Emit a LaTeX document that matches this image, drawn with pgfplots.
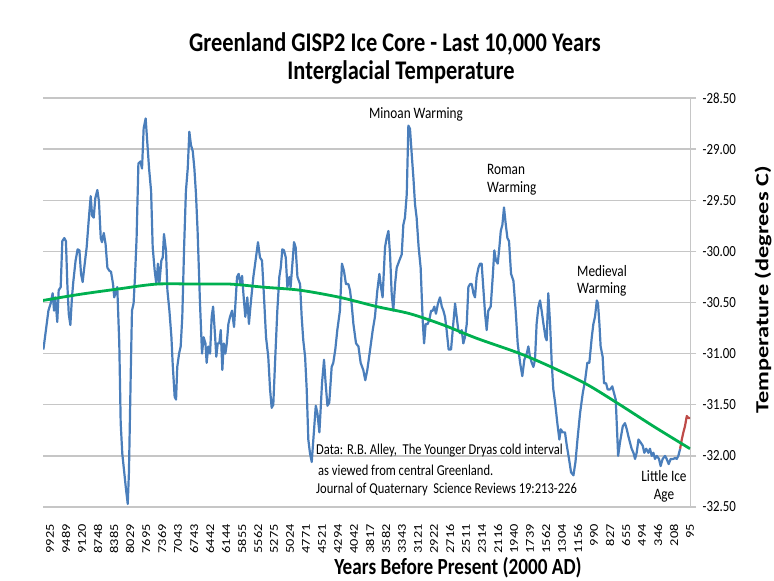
\documentclass[border=0pt]{standalone}
\usepackage{fontspec}
\setmainfont{Carlito}
\usepackage{graphicx}
\usepackage{pgfplots}
\pgfplotsset{compat=1.18}

\definecolor{coreblue}{HTML}{4A7EBB}
\definecolor{trendgreen}{HTML}{00B050}
\definecolor{recentred}{HTML}{BE4B48}
\definecolor{gridgray}{HTML}{C6C6C6}

% the reference text is a little stretched upward
\newcommand{\xl}[1]{\scalebox{1.2}[1]{#1}}
\newcommand{\yl}[1]{\scalebox{1}[1.2]{#1}}

\begin{document}
\begin{tikzpicture}[x=1bp,y=1bp]
\useasboundingbox (0,0) rectangle (774,581);
\begin{axis}[
    at={(43bp,74bp)}, anchor=south west,
    scale only axis, width=647.4bp, height=409bp,
    xmin=-0.199, xmax=31.96, ymin=-32.5, ymax=-28.5,
    axis x line*=bottom, axis y line*=right,
    axis line style={gridgray, line width=1.3bp},
    ymajorgrids, grid style={gridgray, line width=1.3bp},
    ytick={-32.5,-32,-31.5,-31,-30.5,-30,-29.5,-29,-28.5},
    yticklabels={\yl{-32.50},\yl{-32.00},\yl{-31.50},\yl{-31.00},\yl{-30.50},\yl{-30.00},\yl{-29.50},\yl{-29.00},\yl{-28.50}},
    major tick length=6bp, tick align=outside,
    ytick style={gridgray, line width=1.3bp},
    xtick style={draw=none},
    xtick={0.149,0.944,1.739,2.533,3.328,4.123,4.918,5.713,6.507,7.302,8.097,8.892,9.687,10.481,11.276,12.071,12.866,13.661,14.455,15.250,16.045,16.840,17.635,18.429,19.224,20.019,20.814,21.609,22.403,23.198,23.993,24.788,25.583,26.377,27.172,27.967,28.762,29.557,30.351,31.146,31.941},
    xticklabels={\xl{9925},\xl{9489},\xl{9120},\xl{8748},\xl{8385},\xl{8029},\xl{7695},\xl{7369},\xl{7043},\xl{6743},\xl{6442},\xl{6144},\xl{5855},\xl{5562},\xl{5275},\xl{5024},\xl{4771},\xl{4521},\xl{4294},\xl{4042},\xl{3817},\xl{3582},\xl{3343},\xl{3121},\xl{2922},\xl{2716},\xl{2511},\xl{2314},\xl{2116},\xl{1940},\xl{1739},\xl{1562},\xl{1304},\xl{1156},\xl{990},\xl{827},\xl{655},\xl{494},\xl{346},\xl{208},\xl{95}},
    xticklabel style={rotate=90, anchor=east, inner sep=0pt, font=\fontsize{12}{12}\selectfont},
    yticklabel style={anchor=west, inner sep=0pt, font=\fontsize{12.9}{13}\selectfont},
    xticklabel shift=11bp,
    yticklabel shift=6bp,
]
% GISP2 temperature
\addplot[coreblue, line width=2.2bp, line join=round] coordinates {
(-0.18,-30.96) (-0.10,-30.84) (0.07,-30.58) (0.18,-30.51) (0.28,-30.41) (0.35,-30.58)
(0.41,-30.45) (0.51,-30.69) (0.58,-30.38) (0.68,-30.35) (0.76,-29.90) (0.86,-29.87)
(0.94,-29.90) (1.01,-30.32) (1.08,-30.61) (1.16,-30.72) (1.24,-30.45) (1.31,-30.29)
(1.42,-30.09) (1.52,-29.98) (1.61,-29.99) (1.69,-30.22) (1.77,-30.30) (1.85,-30.16)
(1.97,-29.96) (2.07,-29.70) (2.17,-29.46) (2.24,-29.65) (2.32,-29.67) (2.40,-29.48)
(2.50,-29.40) (2.58,-29.51) (2.67,-29.87) (2.73,-29.91) (2.82,-29.82) (2.91,-29.93)
(3.00,-30.16) (3.10,-30.19) (3.18,-30.20) (3.28,-30.32) (3.34,-30.45) (3.43,-30.38)
(3.49,-30.35) (3.59,-30.90) (3.66,-31.68) (3.74,-31.98) (3.82,-32.13) (3.92,-32.32)
(4.01,-32.47) (4.07,-32.16) (4.16,-31.19) (4.22,-30.58) (4.30,-30.51) (4.37,-30.25)
(4.45,-29.87) (4.54,-29.14) (4.64,-29.12) (4.72,-29.19) (4.80,-28.80) (4.90,-28.70)
(4.98,-28.93) (5.07,-29.19) (5.17,-29.41) (5.25,-29.96) (5.35,-30.19) (5.43,-30.32)
(5.51,-30.12) (5.58,-30.32) (5.68,-30.09) (5.75,-30.06) (5.81,-29.83) (5.91,-29.99)
(5.98,-30.38) (6.08,-30.58) (6.18,-30.84) (6.24,-31.09) (6.34,-31.42) (6.41,-31.45)
(6.47,-31.13) (6.56,-31.00) (6.64,-30.93) (6.72,-30.64) (6.81,-29.96) (6.90,-29.41)
(6.99,-29.19) (7.07,-28.83) (7.15,-28.96) (7.24,-29.02) (7.32,-29.19) (7.40,-29.44)
(7.48,-29.80) (7.60,-30.51) (7.70,-31.00) (7.78,-30.84) (7.87,-30.90) (7.93,-31.09)
(8.01,-30.93) (8.10,-31.00) (8.18,-30.64) (8.25,-30.54) (8.33,-30.77) (8.41,-31.03)
(8.48,-30.90) (8.56,-30.90) (8.63,-30.77) (8.71,-31.16) (8.78,-30.90) (8.86,-31.00)
(8.93,-30.90) (9.01,-30.71) (9.09,-30.64) (9.19,-30.58) (9.29,-30.74) (9.36,-30.51)
(9.44,-30.25) (9.52,-30.22) (9.60,-30.32) (9.69,-30.24) (9.77,-30.45) (9.85,-30.64)
(9.95,-30.45) (10.03,-30.71) (10.12,-30.51) (10.25,-30.25) (10.38,-30.06) (10.48,-29.91)
(10.58,-30.06) (10.68,-30.09) (10.78,-30.45) (10.88,-30.84) (10.99,-31.03) (11.08,-31.35)
(11.16,-31.53) (11.24,-31.50) (11.34,-31.03) (11.44,-30.58) (11.54,-30.25) (11.61,-30.16)
(11.69,-29.98) (11.77,-29.99) (11.86,-30.06) (11.94,-30.35) (12.04,-30.25) (12.10,-30.35)
(12.19,-30.12) (12.27,-29.91) (12.35,-29.96) (12.44,-30.25) (12.57,-30.32) (12.65,-30.64)
(12.73,-30.87) (12.82,-31.03) (12.90,-31.35) (12.98,-31.84) (13.06,-31.97) (13.15,-32.06)
(13.23,-31.84) (13.35,-31.51) (13.43,-31.58) (13.53,-31.77) (13.61,-31.48) (13.66,-31.29)
(13.76,-31.06) (13.84,-31.29) (13.93,-31.51) (14.02,-31.48) (14.14,-31.13) (14.22,-31.09)
(14.32,-30.96) (14.42,-30.77) (14.55,-30.58) (14.65,-30.12) (14.75,-30.19) (14.85,-30.32)
(14.97,-30.32) (15.05,-30.38) (15.13,-30.51) (15.22,-30.71) (15.35,-30.90) (15.47,-30.93)
(15.58,-31.09) (15.71,-31.16) (15.81,-31.26) (15.91,-31.16) (16.05,-30.96) (16.18,-30.77)
(16.29,-30.64) (16.41,-30.38) (16.51,-30.22) (16.59,-30.35) (16.67,-30.45) (16.79,-29.96)
(16.87,-29.87) (16.96,-29.80) (17.04,-30.03) (17.12,-30.41) (17.20,-30.58) (17.29,-30.32)
(17.37,-30.16) (17.50,-30.09) (17.62,-30.03) (17.70,-29.74) (17.78,-29.67) (17.87,-29.44)
(17.95,-28.77) (18.03,-28.80) (18.12,-29.06) (18.20,-29.28) (18.28,-29.54) (18.36,-29.67)
(18.46,-29.96) (18.56,-30.16) (18.66,-30.67) (18.73,-30.90) (18.81,-30.71) (18.91,-30.71)
(18.99,-30.67) (19.08,-30.58) (19.16,-30.58) (19.24,-30.54) (19.32,-30.61) (19.42,-30.51)
(19.52,-30.45) (19.61,-30.54) (19.69,-30.58) (19.77,-30.64) (19.85,-30.77) (19.95,-30.96)
(20.07,-30.96) (20.18,-30.71) (20.27,-30.51) (20.35,-30.64) (20.43,-30.77) (20.52,-30.80)
(20.60,-30.77) (20.68,-30.90) (20.76,-30.84) (20.85,-30.71) (20.93,-30.35) (21.01,-30.32)
(21.10,-30.32) (21.18,-30.41) (21.26,-30.45) (21.34,-30.25) (21.43,-30.16) (21.51,-30.12)
(21.59,-30.12) (21.68,-30.38) (21.76,-30.61) (21.84,-30.77) (21.92,-30.58) (22.04,-30.54)
(22.14,-30.25) (22.22,-29.99) (22.30,-30.09) (22.39,-30.12) (22.47,-29.96) (22.54,-29.80)
(22.62,-29.74) (22.70,-29.57) (22.79,-29.74) (22.87,-29.87) (22.95,-29.90) (23.05,-30.22)
(23.17,-30.29) (23.28,-30.58) (23.38,-30.90) (23.50,-31.09) (23.61,-31.22) (23.71,-31.06)
(23.83,-31.00) (23.91,-30.93) (23.99,-31.03) (24.08,-31.09) (24.16,-31.13) (24.24,-31.06)
(24.32,-30.71) (24.41,-30.54) (24.49,-30.48) (24.57,-30.58) (24.66,-30.71) (24.76,-30.84)
(24.82,-30.87) (24.90,-30.41) (24.99,-30.71) (25.07,-31.09) (25.15,-31.35) (25.24,-31.48)
(25.35,-31.68) (25.45,-31.84) (25.52,-31.74) (25.62,-31.77) (25.73,-31.77) (25.82,-31.90)
(25.93,-32.03) (26.03,-32.16) (26.15,-32.19) (26.25,-32.06) (26.35,-31.84) (26.48,-31.58)
(26.61,-31.39) (26.73,-31.26) (26.84,-31.09) (26.94,-31.09) (27.06,-30.84) (27.14,-30.71)
(27.22,-30.64) (27.31,-30.48) (27.37,-30.51) (27.44,-30.71) (27.50,-30.93) (27.60,-31.03)
(27.67,-31.29) (27.77,-31.29) (27.85,-31.35) (27.97,-31.35) (28.08,-31.32) (28.17,-31.39)
(28.25,-31.45) (28.30,-31.68) (28.37,-32.00) (28.46,-31.87) (28.60,-31.71) (28.71,-31.68)
(28.80,-31.74) (28.88,-31.81) (28.96,-31.87) (29.04,-31.93) (29.13,-31.97) (29.21,-32.03)
(29.29,-31.97) (29.38,-31.84) (29.49,-31.87) (29.59,-31.90) (29.67,-31.97) (29.76,-31.93)
(29.87,-31.97) (29.95,-31.93) (30.04,-32.00) (30.12,-31.97) (30.20,-32.03) (30.29,-32.00)
(30.40,-32.03) (30.48,-32.10) (30.58,-32.03) (30.70,-32.00) (30.78,-32.03) (30.88,-32.08)
(30.98,-32.03) (31.11,-32.03) (31.20,-32.02) (31.28,-32.03) (31.36,-32.00) (31.45,-31.93)
};
% recent instrumental segment
\addplot[recentred, line width=2.2bp, line join=round] coordinates {
(31.45,-31.93) (31.53,-31.84) (31.61,-31.77) (31.69,-31.71) (31.78,-31.61) (31.86,-31.63) (31.94,-31.63)
};
% polynomial trend
\addplot[trendgreen, line width=2.8bp, smooth] coordinates {
(-0.20,-30.48) (1.64,-30.42) (3.46,-30.37) (5.45,-30.32) (7.43,-30.32) (9.09,-30.32)
(10.75,-30.35) (12.57,-30.38) (14.55,-30.45) (16.38,-30.54) (18.03,-30.61) (19.69,-30.72)
(21.34,-30.85) (23.50,-31.00) (25.15,-31.14) (26.81,-31.30) (28.46,-31.50) (30.12,-31.71)
(31.94,-31.93)
};
\end{axis}

% titles
\node[anchor=base, font=\bfseries\fontsize{22.5}{24}\selectfont] at (395,529) {\yl{Greenland GISP2 Ice Core - Last 10,000 Years}};
\node[anchor=base, font=\bfseries\fontsize{22.5}{24}\selectfont] at (401,501) {\yl{Interglacial Temperature}};
\node[anchor=base, font=\bfseries\fontsize{19.3}{20}\selectfont] at (458,6) {\yl{Years Before Present (2000 AD)}};
\node[rotate=90, inner sep=0pt, font=\bfseries\fontsize{18.5}{19}\selectfont] at (763,291) {\scalebox{1.32}[1]{Temperature (degrees C)}};

% annotations
\begin{scope}[every node/.style={font=\fontsize{13.3}{14}\selectfont, inner sep=0pt}]
\node[anchor=base] at (416,462) {\yl{Minoan Warming}};
\node[anchor=base west] at (487,406) {\yl{Roman}};
\node[anchor=base west] at (487,388) {\yl{Warming}};
\node[anchor=base west] at (577,304) {\yl{Medieval}};
\node[anchor=base west] at (577,287) {\yl{Warming}};
\node[anchor=base] at (664,99) {\yl{Little Ice}};
\node[anchor=base] at (664,81) {\yl{Age}};
\end{scope}
\begin{scope}[every node/.style={font=\fontsize{12.6}{13}\selectfont, inner sep=0pt, anchor=base west}]
\node at (316,126) {\yl{Data: R.B. Alley,\ \ The Younger Dryas cold interval}};
\node at (318,105) {\yl{as viewed from central Greenland.}};
\node at (316,87) {\yl{Journal of Quaternary\ \ Science Reviews 19:213-226}};
\end{scope}
\end{tikzpicture}
\end{document}
